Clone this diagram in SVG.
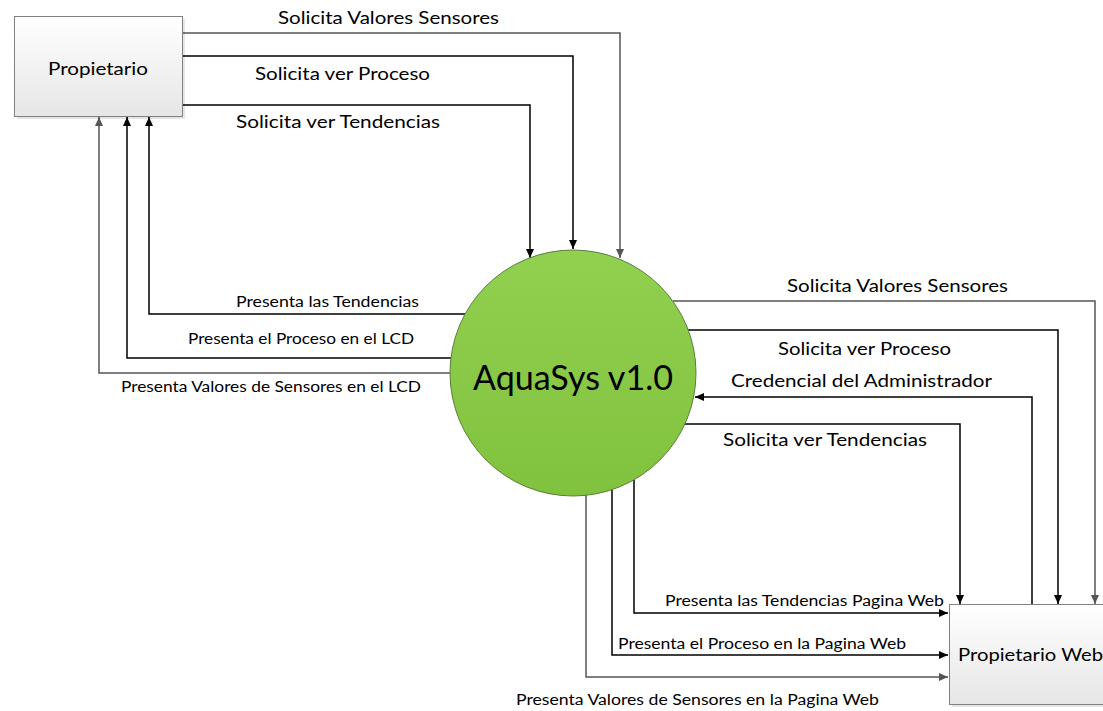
<svg xmlns="http://www.w3.org/2000/svg" width="1103" height="711" viewBox="0 0 1103 711">
<defs>
<linearGradient id="boxg" x1="0" y1="0" x2="0" y2="1">
<stop offset="0" stop-color="#ffffff"/>
<stop offset="1" stop-color="#e6e6e6"/>
</linearGradient>
<linearGradient id="circg" x1="0" y1="0" x2="0" y2="1">
<stop offset="0" stop-color="#92d050"/>
<stop offset="1" stop-color="#80c23e"/>
</linearGradient>
<marker id="ab" markerWidth="10" markerHeight="10" refX="9" refY="5" orient="auto" markerUnits="userSpaceOnUse">
<path d="M0,1 L9,5 L0,9 Z" fill="#000"/>
</marker>
<marker id="ag" markerWidth="10" markerHeight="10" refX="9" refY="5" orient="auto" markerUnits="userSpaceOnUse">
<path d="M0,1 L9,5 L0,9 Z" fill="#555"/>
</marker>
</defs>
<style>
.box{fill:url(#boxg);stroke:#808080;stroke-width:1}
.shadow{fill:#000;opacity:0.1}
.lbl{font-family:Lato,"Open Sans","Liberation Sans",sans-serif;fill:#000;dominant-baseline:central}
.c{fill:none;stroke:#000;stroke-width:1.5}
.g{fill:none;stroke:#555;stroke-width:1.5}
</style>
<rect width="1103" height="711" fill="#fff"/>

<g id="connectors">
<path class="g" d="M182,33 H620 V258" marker-end="url(#ag)"/>
<path class="c" d="M182,56 H573 V249" marker-end="url(#ab)"/>
<path class="c" d="M182,105 H530 V258" marker-end="url(#ab)"/>
<path class="c" d="M465,314 H149 V117" marker-end="url(#ab)"/>
<path class="c" d="M451,358 H127 V117" marker-end="url(#ab)"/>
<path class="g" d="M450,373 H99 V117" marker-end="url(#ag)"/>
<path class="g" d="M673,301 H1095 V604" marker-end="url(#ag)"/>
<path class="c" d="M688,330 H1058 V604" marker-end="url(#ab)"/>
<path class="c" d="M1032,604 V397 H695" marker-end="url(#ab)"/>
<path class="c" d="M685,424 H960 V604" marker-end="url(#ab)"/>
<path class="c" d="M634,480 V613 H948" marker-end="url(#ab)"/>
<path class="c" d="M612,490 V655 H948" marker-end="url(#ab)"/>
<path class="g" d="M586,495 V677 H948" marker-end="url(#ag)"/>
</g>

<g id="labels">
<text class="lbl" x="278" y="17" font-size="17.5" textLength="221" lengthAdjust="spacingAndGlyphs">Solicita Valores Sensores</text>
<text class="lbl" x="255" y="73" font-size="17.5" textLength="175" lengthAdjust="spacingAndGlyphs">Solicita ver Proceso</text>
<text class="lbl" x="236" y="121" font-size="17.5" textLength="204" lengthAdjust="spacingAndGlyphs">Solicita ver Tendencias</text>
<text class="lbl" x="236" y="301" font-size="15.5" textLength="183" lengthAdjust="spacingAndGlyphs">Presenta las Tendencias</text>
<text class="lbl" x="188" y="338" font-size="15.5" textLength="226" lengthAdjust="spacingAndGlyphs">Presenta el Proceso en el LCD</text>
<text class="lbl" x="121" y="386" font-size="15.5" textLength="300" lengthAdjust="spacingAndGlyphs">Presenta Valores de Sensores en el LCD</text>
<text class="lbl" x="787" y="285" font-size="17.5" textLength="221" lengthAdjust="spacingAndGlyphs">Solicita Valores Sensores</text>
<text class="lbl" x="778" y="348" font-size="17.5" textLength="173" lengthAdjust="spacingAndGlyphs">Solicita ver Proceso</text>
<text class="lbl" x="731" y="380" font-size="17.5" textLength="261" lengthAdjust="spacingAndGlyphs">Credencial del Administrador</text>
<text class="lbl" x="723" y="439" font-size="17.5" textLength="204" lengthAdjust="spacingAndGlyphs">Solicita ver Tendencias</text>
<text class="lbl" x="665" y="600" font-size="15.5" textLength="279" lengthAdjust="spacingAndGlyphs">Presenta las Tendencias Pagina Web</text>
<text class="lbl" x="618" y="643" font-size="15.5" textLength="288" lengthAdjust="spacingAndGlyphs">Presenta el Proceso en la Pagina Web</text>
<text class="lbl" x="516" y="699" font-size="15.5" textLength="363" lengthAdjust="spacingAndGlyphs">Presenta Valores de Sensores en la Pagina Web</text>
</g>

<g id="propietario">
<rect class="shadow" x="17" y="19" width="168" height="100"/>
<rect class="box" x="14.5" y="16.5" width="168" height="100"/>
<text class="lbl" x="48" y="68" font-size="17.5" textLength="100" lengthAdjust="spacingAndGlyphs">Propietario</text>
</g>

<g id="aquasys">
<circle cx="573" cy="373" r="123" fill="url(#circg)" stroke="#5b7f3a" stroke-width="1"/>
<text class="lbl" x="473" y="376" font-size="35" textLength="200" lengthAdjust="spacingAndGlyphs">AquaSys v1.0</text>
</g>

<g id="propietario-web">
<rect class="shadow" x="952" y="607" width="168" height="100"/>
<rect class="box" x="949.5" y="604.5" width="168" height="100"/>
<text class="lbl" x="958" y="654" font-size="17.5" textLength="145" lengthAdjust="spacingAndGlyphs">Propietario Web</text>
</g>
</svg>
